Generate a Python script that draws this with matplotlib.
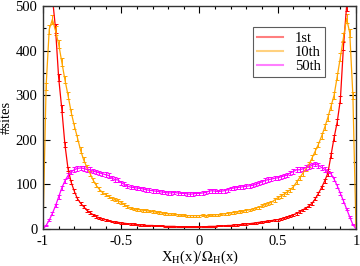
import matplotlib
matplotlib.use("Agg")
import matplotlib.pyplot as plt
from matplotlib.ticker import MultipleLocator
import numpy as np

plt.rcParams['font.family'] = ['Liberation Serif', 'DejaVu Serif']
plt.rcParams['mathtext.fontset'] = 'stix'

# bin positions, -1 ... 1 in steps of 0.02
x = np.round(np.arange(-1.0, 1.0001, 0.02), 2)

sites_1st = [
    900, 800, 640, 520, 450, 340, 270, 190, 135, 105,
    85, 68, 58, 50, 42, 37, 32, 28, 25, 23,
    21, 19, 17, 16, 15, 14, 13, 12, 11, 11,
    10, 9, 9, 8, 8, 8, 7, 7, 7, 6,
    6, 6, 6, 5, 5, 5, 5, 5, 5, 5,
    5, 5, 5, 6, 6, 6, 7, 7, 7, 8,
    8, 9, 9, 10, 11, 11, 12, 13, 14, 15,
    16, 17, 18, 19, 20, 21, 23, 25, 27, 29,
    32, 35, 39, 43, 47, 52, 58, 68, 80, 93,
    108, 125, 165, 205, 240, 290, 410, 500, 640, 800,
    900]

sites_10th = [
    0, 320, 448, 470, 445, 415, 375, 335, 300, 262,
    232, 205, 177, 155, 139, 125, 110, 98, 89, 82,
    77, 73, 69, 66, 63, 60, 55, 50, 47, 45,
    44, 43, 42, 41, 40, 39, 38, 37, 36, 35,
    34, 34, 33, 32, 31, 31, 30, 30, 30, 30,
    30, 31, 30, 31, 31, 32, 32, 33, 34, 35,
    36, 37, 38, 39, 40, 42, 43, 45, 47, 49,
    52, 55, 57, 60, 65, 70, 74, 78, 83, 88,
    95, 105, 115, 125, 135, 145, 160, 175, 190, 208,
    228, 250, 275, 300, 342, 385, 430, 472, 440, 300,
    0]

sites_50th = [
    0, 8, 20, 35, 52, 72, 92, 108, 120, 128,
    133, 136, 137, 136, 134, 133, 130, 128, 126, 124,
    122, 120, 114, 111, 110, 104, 100, 96, 94, 93,
    92, 91, 90, 88, 87, 86, 85, 84, 83, 82,
    81, 81, 82, 81, 80, 80, 79, 78, 79, 80,
    80, 81, 82, 85, 86, 85, 84, 85, 86, 88,
    91, 92, 93, 94, 95, 96, 97, 98, 100, 103,
    106, 109, 111, 112, 114, 115, 117, 119, 121, 126,
    129, 133, 133, 135, 138, 140, 143, 146, 143, 138,
    134, 130, 124, 112, 97, 80, 63, 45, 27, 10,
    0]

labels = ['1st', '10th', '50th']
colors = ['#ff0000', '#ffa500', '#ff00ff']

fig = plt.figure(figsize=(3.6, 2.66), dpi=100)
ax = fig.add_axes([0.1194, 0.139, 0.8695, 0.838])

for y, lab, c in zip([sites_1st, sites_10th, sites_50th], labels, colors):
    y = np.array(y, dtype=float)
    err = 0.45 * np.sqrt(y)  # poisson-like error bars
    ax.errorbar(x, y, yerr=err, color=c, lw=0.9, elinewidth=0.7,
                capsize=1.3, capthick=0.7)
    # plain line for the legend entry
    ax.plot([], [], color=c, lw=1.5, alpha=0.5, label=lab)

ax.set_xlim(-1, 1)
ax.set_ylim(0, 500)
ax.xaxis.set_major_locator(MultipleLocator(0.5))
ax.xaxis.set_minor_locator(MultipleLocator(0.1))
ax.yaxis.set_major_locator(MultipleLocator(100))
ax.yaxis.set_minor_locator(MultipleLocator(50))
ax.xaxis.set_major_formatter(plt.FuncFormatter(lambda v, p: '%g' % v))
ax.tick_params(which='both', direction='in', top=True, right=True,
               labelsize=10.5, width=0.8)
ax.tick_params(which='major', length=5, pad=4)
ax.tick_params(which='minor', length=2.5)
for s in ax.spines.values():
    s.set_linewidth(1.0)
    s.set_color('#333333')

ax.set_xlabel(r'X$_\mathrm{H}$(x)/$\Omega_\mathrm{H}$(x)', fontsize=10.5, labelpad=1)
ax.set_ylabel('#sites', fontsize=10.5, labelpad=2)

leg = ax.legend(loc='upper left', bbox_to_anchor=(0.67, 0.905), fontsize=10.5,
                frameon=True, fancybox=False, edgecolor='#333333',
                handlelength=1.8, handletextpad=0.8, borderpad=0.3,
                labelspacing=0.05, borderaxespad=0)
leg.get_frame().set_linewidth(0.8)

fig.savefig('out.png', dpi=100)
